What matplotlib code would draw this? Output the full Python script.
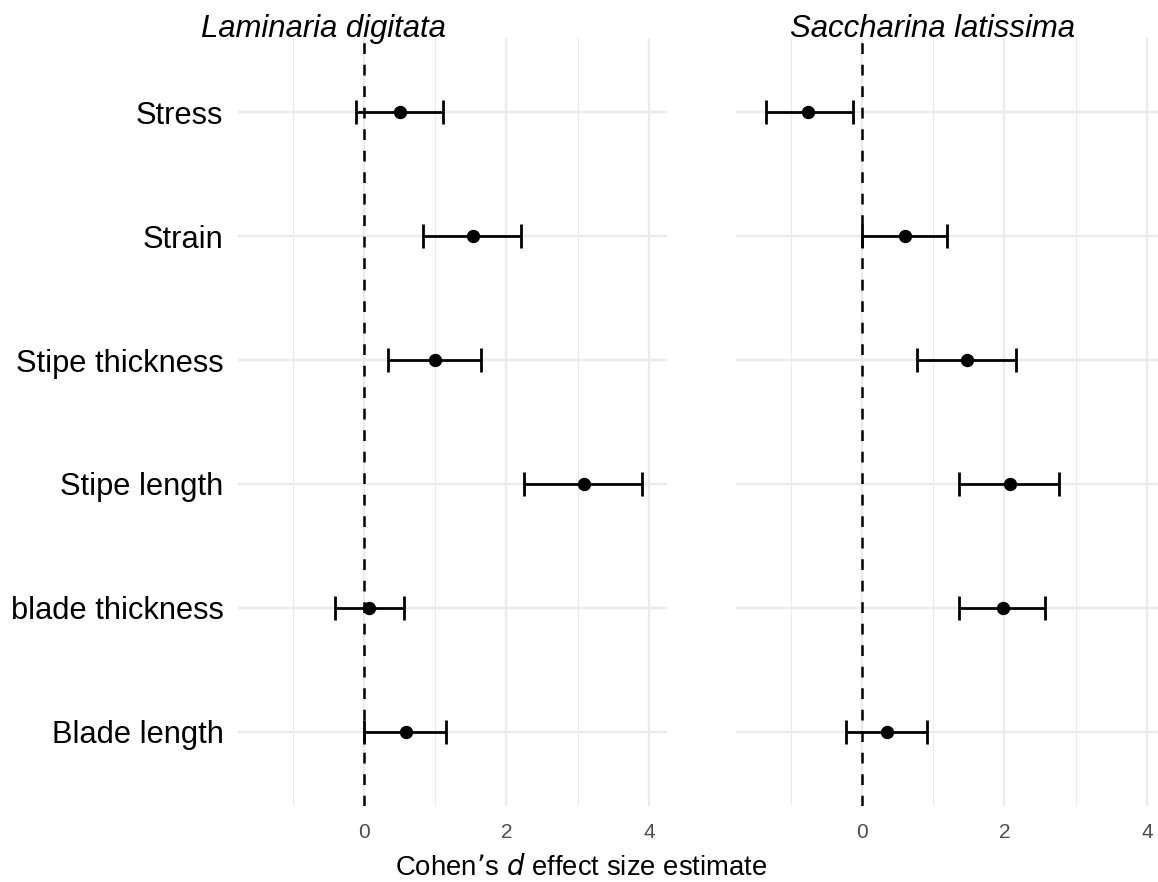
import matplotlib
matplotlib.use("Agg")
import matplotlib.pyplot as plt
from matplotlib.ticker import FixedLocator

plt.rcParams['font.family'] = ['Liberation Sans', 'DejaVu Sans']

categories = ["Blade length", "blade thickness", "Stipe length",
              "Stipe thickness", "Strain", "Stress"]

lam_est = [0.595, 0.08, 3.09, 1.00, 1.535, 0.505]
lam_lo = [0.01, -0.41, 2.25, 0.34, 0.83, -0.11]
lam_hi = [1.16, 0.57, 3.91, 1.64, 2.21, 1.11]

sac_est = [0.35, 1.975, 2.08, 1.48, 0.60, -0.75]
sac_lo = [-0.22, 1.37, 1.37, 0.78, 0.0, -1.345]
sac_hi = [0.915, 2.57, 2.77, 2.16, 1.20, -0.13]

titles = ["Laminaria digitata", "Saccharina latissima"]
xticks_major = [0, 2, 4]
xticks_minor = [-1, 1, 3]

W, H = 1158, 882
fig = plt.figure(figsize=(W / 100, H / 100), dpi=100)

bottom = (H - 806) / H
height = (806 - 38) / H
width = (667 - 238) / W
ax1 = fig.add_axes([238 / W, bottom, width, height])
ax2 = fig.add_axes([736 / W, bottom, width, height])

grid_col = "#EBEBEB"
ypos = list(range(1, len(categories) + 1))

for ax, est, lo, hi in [(ax1, lam_est, lam_lo, lam_hi), (ax2, sac_est, sac_lo, sac_hi)]:
    ax.set_xlim(-1.765, 4.255)
    ax.set_ylim(0.4, 6.6)
    for s in ax.spines.values():
        s.set_visible(False)
    ax.xaxis.set_major_locator(FixedLocator(xticks_major))
    ax.xaxis.set_minor_locator(FixedLocator(xticks_minor))
    ax.set_yticks(ypos)
    ax.grid(True, which='major', color=grid_col, linewidth=1.7, zorder=0)
    ax.grid(True, which='minor', axis='x', color=grid_col, linewidth=0.85, zorder=0)
    ax.set_axisbelow(True)
    ax.tick_params(axis='both', which='both', length=0)
    ax.tick_params(axis='x', labelsize=15, labelcolor="#4D4D4D", pad=12)
    ax.axvline(0, color='black', linewidth=1.8, linestyle=(0, (4.3, 4.3)), zorder=2)
    xerr = [[e - l for e, l in zip(est, lo)], [h - e for e, h in zip(est, hi)]]
    ax.errorbar(est, ypos, xerr=xerr, fmt='o', color='black', ecolor='black',
                elinewidth=2.0, capsize=8.6, capthick=2.0, markersize=8.6, zorder=3)

ax1.set_yticklabels(categories, fontsize=22.2)
ax1.tick_params(axis='y', pad=10.5)
ax2.set_yticklabels([])

fig.text(323 / W, 1 - 37 / H, titles[0], fontsize=22.4, style='italic',
         ha='center', va='baseline')
fig.text(932 / W, 1 - 37 / H, titles[1], fontsize=22.4, style='italic',
         ha='center', va='baseline')

fig.text(581 / W, 1 - 875 / H, "Cohen\u2019s $\\it{d}$ effect size estimate",
         fontsize=19.8, ha='center', va='baseline')

fig.savefig("out.png", dpi=100)
